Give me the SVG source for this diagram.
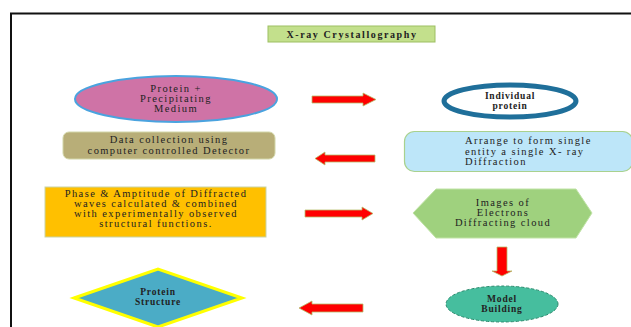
<svg xmlns="http://www.w3.org/2000/svg" width="631" height="327" viewBox="0 0 631 327">
<style>
text{font-family:"Liberation Serif","Times New Roman",serif;font-size:10.5px;fill:#222;text-anchor:middle;letter-spacing:1.4px}
.t{font-weight:bold;font-size:10px;letter-spacing:1.6px}
.b{font-weight:bold;font-size:9.5px;letter-spacing:0.8px}
.arrow{fill:#ff0000;stroke:#b5bd6a;stroke-width:0.8}
</style>
<rect x="0" y="0" width="631" height="327" fill="#ffffff"/>
<path d="M11 328 V13.5 H632" fill="none" stroke="#111" stroke-width="2"/>
<g id="title">
<rect x="268" y="26" width="167" height="16" fill="#c3e08c" stroke="#9dbf62" stroke-width="1"/>
<text class="t" x="352" y="37.5">X-ray Crystallography</text>
</g>
<g id="protein-medium">
<ellipse cx="176" cy="99" rx="101" ry="23" fill="#cf73a6" stroke="#4aa3df" stroke-width="2"/>
<text x="176" y="92">Protein +</text>
<text x="176" y="102">Precipitating</text>
<text x="176" y="112">Medium</text>
</g>
<g id="individual-protein">
<ellipse cx="510" cy="101" rx="66" ry="16" fill="#ffffff" stroke="#1f6f9a" stroke-width="5"/>
<text class="b" x="510" y="99">Individual</text>
<text class="b" x="510" y="109">protein</text>
</g>
<g id="data-collection">
<rect x="63" y="132" width="212" height="27" rx="6" fill="#b8ae78" stroke="#d2d6a8" stroke-width="1"/>
<text x="169" y="143">Data collection using</text>
<text x="169" y="153.5">computer controlled Detector</text>
</g>
<g id="arrange">
<rect x="404.5" y="131.5" width="228" height="40" rx="10" fill="#bde6f9" stroke="#a9d18e" stroke-width="1.2"/>
<text x="465" y="144" style="text-anchor:start">Arrange to form single</text>
<text x="465" y="154.5" style="text-anchor:start">entity  a single X- ray</text>
<text x="465" y="165" style="text-anchor:start">Diffraction</text>
</g>
<g id="phase">
<rect x="45" y="187" width="221" height="50" fill="#ffc000" stroke="#c9d3a6" stroke-width="1"/>
<text x="156" y="197">Phase &amp; Amptitude of Diffracted</text>
<text x="156" y="207">waves calculated &amp; combined</text>
<text x="156" y="217">with experimentally observed</text>
<text x="156" y="227">structural functions.</text>
</g>
<g id="images">
<polygon points="413,213 436,189 576,189 592,213 576,238 436,238" fill="#9fd17e" stroke="#c0e3a6" stroke-width="1"/>
<text x="503" y="206">Images of</text>
<text x="503" y="216">Electrons</text>
<text x="503" y="226">Diffracting cloud</text>
</g>
<g id="model-building">
<ellipse cx="502" cy="304" rx="56" ry="18" fill="#46be9e" stroke="#2e8a6e" stroke-width="1" stroke-dasharray="3,2"/>
<text class="b" x="502" y="302">Model</text>
<text class="b" x="502" y="312">Building</text>
</g>
<g id="protein-structure">
<polygon points="74,298 158,269 242,298 158,327" fill="#4bacc6" stroke="#ffff00" stroke-width="3"/>
<text class="b" x="158" y="295">Protein</text>
<text class="b" x="158" y="305">Structure</text>
</g>
<g id="connectors">
<polygon class="arrow" points="312,96 363,96 363,93 376,99.5 363,106 363,103 312,103"/>
<polygon class="arrow" points="375,155 325,155 325,152 315,158.5 325,165 325,162 375,162"/>
<polygon class="arrow" points="305,210 362,210 362,207 373,213.5 362,220 362,217 305,217"/>
<polygon class="arrow" points="497,247 507,247 507,271 512,271 502,276 492,271 497,271"/>
<polygon class="arrow" points="363,304 312,304 312,301 299,308 312,315 312,312 363,312"/>
</g>
</svg>
